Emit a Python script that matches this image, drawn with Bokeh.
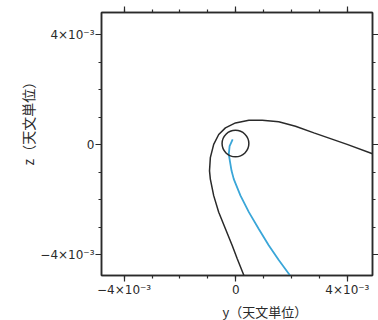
from bokeh.plotting import figure
from bokeh.models import LinearAxis, FixedTicker, Range1d, Title
from bokeh.embed import file_html
from bokeh.resources import INLINE

# data in units of 1e-3 AU
black_y = [0.29, 0.05, -0.13, -0.37, -0.61, -0.79, -0.91, -0.94, -0.91, -0.79,
           -0.61, -0.37, -0.01, 0.47, 0.95, 1.54, 2.14, 2.80, 3.99, 4.90]
black_z = [-4.74, -4.13, -3.65, -3.05, -2.45, -1.85, -1.25, -0.95, -0.47, 0.01,
           0.37, 0.61, 0.79, 0.89, 0.89, 0.83, 0.67, 0.43, 0.01, -0.33]
blue_y = [-0.11, -0.22, -0.25, -0.15, -0.07, 0.17, 0.47, 0.82, 1.18, 1.54, 1.94]
blue_z = [0.19, -0.05, -0.35, -0.95, -1.25, -1.85, -2.45, -3.05, -3.65, -4.19, -4.74]
earth_y = [-0.01]
earth_z = [0.04]
earth_r = 0.48

major_ticks = [-4e-3, 0.0, 4e-3]
minor_ticks = [-4e-3, -3e-3, -2e-3, -1e-3, 0.0, 1e-3, 2e-3, 3e-3, 4e-3]
tick_labels = {-4e-3: "\u22124\u00d710\u207b\u00b3", 0.0: "0", 4e-3: "4\u00d710\u207b\u00b3"}
x_title = "y（天文単位）"
y_title = "z（天文単位）"

s = 1e-3
p = figure(width=378, height=320, output_backend="svg", toolbar_location=None,
           x_range=Range1d(-4.81e-3, 4.90e-3), y_range=Range1d(-4.75e-3, 4.80e-3),
           x_axis_location=None, y_axis_location=None,
           min_border_left=101, min_border_top=12, min_border_right=6, min_border_bottom=43)
p.background_fill_color = "white"
p.border_fill_color = "white"
p.grid.visible = False
p.outline_line_color = "#2a2a2a"
p.outline_line_width = 1.5

def make_axis(labels):
    ax = LinearAxis(ticker=FixedTicker(ticks=major_ticks, minor_ticks=minor_ticks))
    ax.axis_line_color = "#2a2a2a"
    ax.axis_line_width = 1.5
    ax.major_tick_line_color = "#2a2a2a"
    ax.minor_tick_line_color = "#2a2a2a"
    ax.major_tick_out = 6
    ax.major_tick_in = 0
    ax.minor_tick_out = 3
    ax.minor_tick_in = 0
    ax.major_tick_line_width = 1.2
    ax.minor_tick_line_width = 1.2
    if labels:
        ax.major_label_overrides = tick_labels
        ax.major_label_text_font = "DejaVu Sans"
        ax.major_label_text_font_size = "12px"
        ax.major_label_text_color = "#2a2a2a"
        ax.major_label_standoff = 1
    else:
        ax.major_label_text_font_size = "0px"
        ax.major_label_text_alpha = 0
        ax.major_label_standoff = 0
    return ax

p.add_layout(make_axis(True), "below")
p.add_layout(make_axis(True), "left")
p.add_layout(make_axis(False), "above")
p.add_layout(make_axis(False), "right")

p.line([v * s for v in black_y], [v * s for v in black_z], line_color="#2a2a2a", line_width=1.5)
p.line([v * s for v in blue_y], [v * s for v in blue_z], line_color="#3aa6d8", line_width=1.8)
p.ellipse(x=[v * s for v in earth_y], y=[v * s for v in earth_z],
          width=2 * earth_r * s, height=2 * earth_r * s,
          fill_color=None, line_color="#2a2a2a", line_width=1.5)

p.add_layout(Title(text=x_title, align="left", offset=121, standoff=0,
                   text_font="Noto Sans CJK JP", text_font_size="13px",
                   text_font_style="normal", text_color="#2a2a2a"), "below")
p.add_layout(Title(text=y_title, align="left", offset=110, standoff=0,
                   text_font="Noto Sans CJK JP", text_font_size="14px",
                   text_font_style="normal", text_color="#2a2a2a"), "left")

open("out.html", "w").write(file_html(p, INLINE))
